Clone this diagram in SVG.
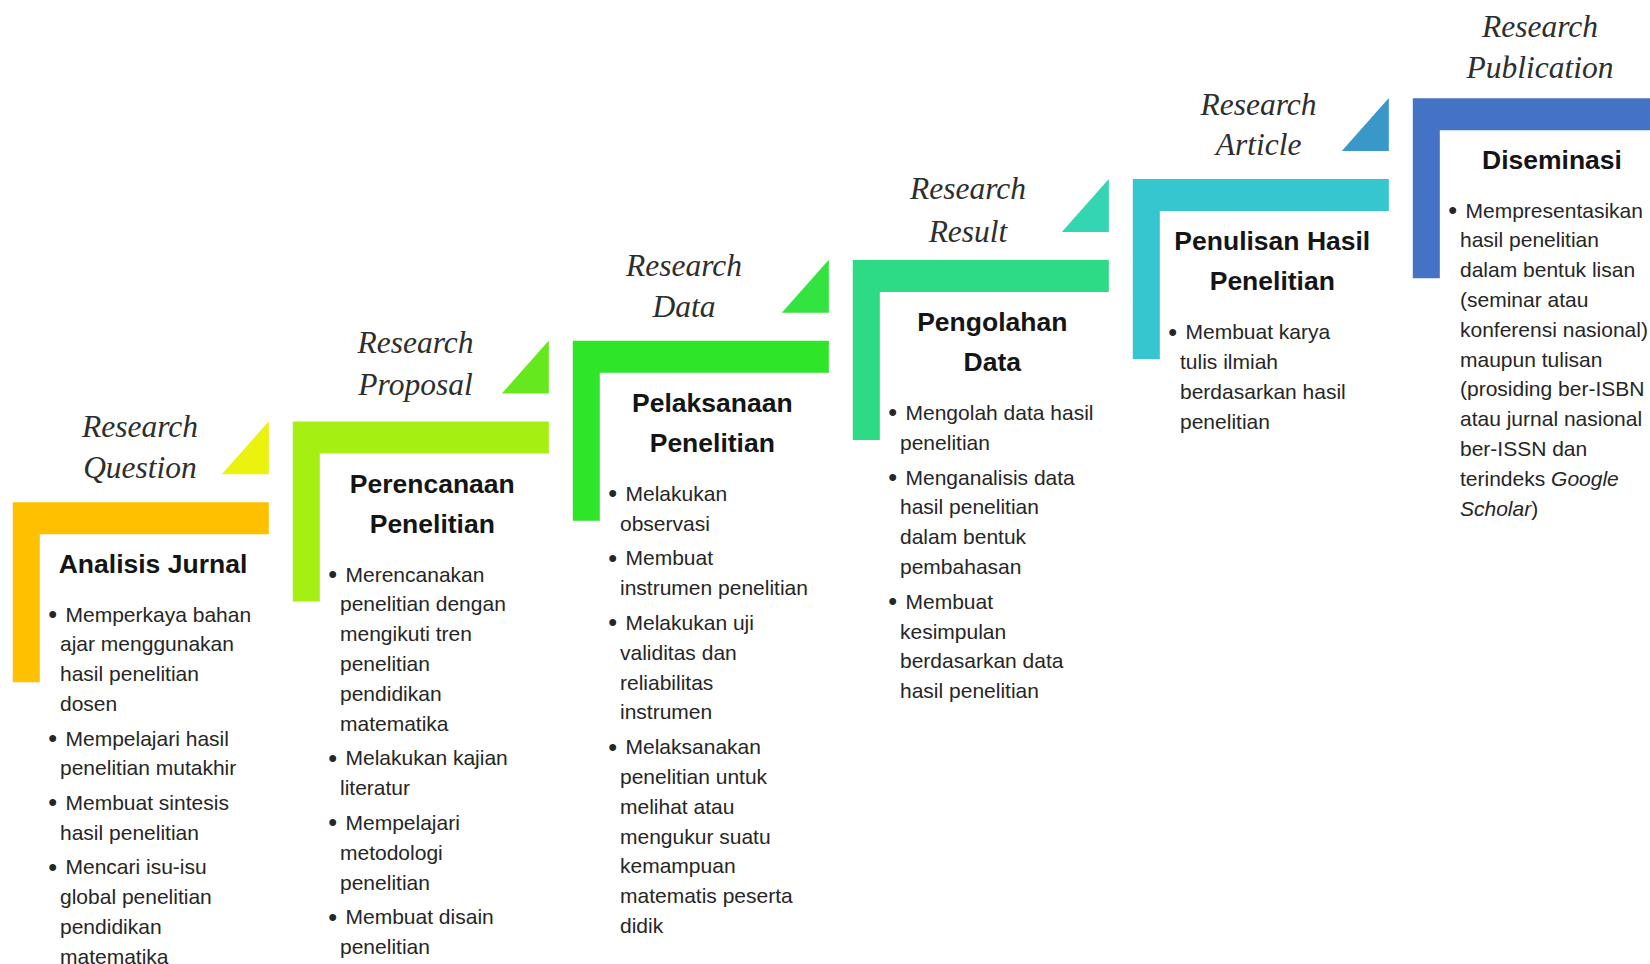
<svg xmlns="http://www.w3.org/2000/svg" width="1650" height="964" viewBox="0 0 1650 964">
<defs>
<style>
.lbl{font-family:"Liberation Serif","Times New Roman",serif;font-style:italic;font-size:31.5px;fill:#2e2e2e;text-anchor:middle}
.ttl{font-family:"Liberation Sans",Arial,sans-serif;font-weight:bold;font-size:26.5px;fill:#151515;text-anchor:middle}
.bd{font-family:"Liberation Sans",Arial,sans-serif;font-size:21px;fill:#262626}
.bl{font-size:24px;font-weight:bold}
.it{font-style:italic}
</style>
<path id="brk" d="M0,0 H256 V32 H27 V180 H0 Z"/>
<path id="tri" d="M209,-28 L256,-81 L256,-28 Z"/>
</defs>
<rect width="1650" height="964" fill="#ffffff"/>

<g id="step1">
<use href="#brk" x="12.8" y="502.3" fill="#FFC000"/>
<use href="#tri" x="12.8" y="502.3" fill="#EBF20E"/>
<text class="lbl" x="140" y="437">Research</text>
<text class="lbl" x="140" y="478">Question</text>
<text class="ttl" x="153" y="573.3">Analisis Jurnal</text>
<g class="bd">
<text class="bl" x="48.5" y="622">•</text><text x="65.5" y="621.5">Memperkaya bahan</text>
<text x="60" y="651.3">ajar menggunakan</text>
<text x="60" y="681.1">hasil penelitian</text>
<text x="60" y="710.9">dosen</text>
<text class="bl" x="48.5" y="746">•</text><text x="65.5" y="745.5">Mempelajari hasil</text>
<text x="60" y="775.3">penelitian mutakhir</text>
<text class="bl" x="48.5" y="810.4">•</text><text x="65.5" y="809.9">Membuat sintesis</text>
<text x="60" y="839.7">hasil penelitian</text>
<text class="bl" x="48.5" y="874.8">•</text><text x="65.5" y="874.3">Mencari isu-isu</text>
<text x="60" y="904.1">global penelitian</text>
<text x="60" y="933.9">pendidikan</text>
<text x="60" y="963.7">matematika</text>
</g>
</g>

<g id="step2">
<use href="#brk" x="292.8" y="421.5" fill="#A5EF12"/>
<use href="#tri" x="292.8" y="421.5" fill="#66E81E"/>
<text class="lbl" x="415.5" y="353.3">Research</text>
<text class="lbl" x="415.5" y="395">Proposal</text>
<text class="ttl" x="432.3" y="492.5">Perencanaan</text>
<text class="ttl" x="432.3" y="532.5">Penelitian</text>
<g class="bd">
<text class="bl" x="328.5" y="582">•</text><text x="345.5" y="581.5">Merencanakan</text>
<text x="340" y="611.3">penelitian dengan</text>
<text x="340" y="641.1">mengikuti tren</text>
<text x="340" y="670.9">penelitian</text>
<text x="340" y="700.7">pendidikan</text>
<text x="340" y="730.5">matematika</text>
<text class="bl" x="328.5" y="765.8">•</text><text x="345.5" y="765.3">Melakukan kajian</text>
<text x="340" y="795.1">literatur</text>
<text class="bl" x="328.5" y="830.4">•</text><text x="345.5" y="829.9">Mempelajari</text>
<text x="340" y="859.7">metodologi</text>
<text x="340" y="889.5">penelitian</text>
<text class="bl" x="328.5" y="924.8">•</text><text x="345.5" y="924.3">Membuat disain</text>
<text x="340" y="954.1">penelitian</text>
</g>
</g>

<g id="step3">
<use href="#brk" x="572.8" y="340.7" fill="#2EE52A"/>
<use href="#tri" x="572.8" y="340.7" fill="#33E33F"/>
<text class="lbl" x="684" y="276.2">Research</text>
<text class="lbl" x="684" y="317.3">Data</text>
<text class="ttl" x="712.3" y="411.7">Pelaksanaan</text>
<text class="ttl" x="712.3" y="451.7">Penelitian</text>
<g class="bd">
<text class="bl" x="608.5" y="501.2">•</text><text x="625.5" y="500.7">Melakukan</text>
<text x="620" y="530.5">observasi</text>
<text class="bl" x="608.5" y="565.8">•</text><text x="625.5" y="565.3">Membuat</text>
<text x="620" y="595.1">instrumen penelitian</text>
<text class="bl" x="608.5" y="630.4">•</text><text x="625.5" y="629.9">Melakukan uji</text>
<text x="620" y="659.7">validitas dan</text>
<text x="620" y="689.5">reliabilitas</text>
<text x="620" y="719.3">instrumen</text>
<text class="bl" x="608.5" y="754.6">•</text><text x="625.5" y="754.1">Melaksanakan</text>
<text x="620" y="783.9">penelitian untuk</text>
<text x="620" y="813.7">melihat atau</text>
<text x="620" y="843.5">mengukur suatu</text>
<text x="620" y="873.3">kemampuan</text>
<text x="620" y="903.1">matematis peserta</text>
<text x="620" y="932.9">didik</text>
</g>
</g>

<g id="step4">
<use href="#brk" x="852.8" y="259.9" fill="#2CDB84"/>
<use href="#tri" x="852.8" y="259.9" fill="#33D5B3"/>
<text class="lbl" x="968" y="198.8">Research</text>
<text class="lbl" x="968" y="241.6">Result</text>
<text class="ttl" x="992.3" y="330.9">Pengolahan</text>
<text class="ttl" x="992.3" y="370.9">Data</text>
<g class="bd">
<text class="bl" x="888.5" y="420.4">•</text><text x="905.5" y="419.9">Mengolah data hasil</text>
<text x="900" y="449.7">penelitian</text>
<text class="bl" x="888.5" y="485">•</text><text x="905.5" y="484.5">Menganalisis data</text>
<text x="900" y="514.3">hasil penelitian</text>
<text x="900" y="544.1">dalam bentuk</text>
<text x="900" y="573.9">pembahasan</text>
<text class="bl" x="888.5" y="609.2">•</text><text x="905.5" y="608.7">Membuat</text>
<text x="900" y="638.5">kesimpulan</text>
<text x="900" y="668.3">berdasarkan data</text>
<text x="900" y="698.1">hasil penelitian</text>
</g>
</g>

<g id="step5">
<use href="#brk" x="1132.8" y="179.1" fill="#36C6CF"/>
<use href="#tri" x="1132.8" y="179.1" fill="#3A98C8"/>
<text class="lbl" x="1258.6" y="115.2">Research</text>
<text class="lbl" x="1258.6" y="155.2">Article</text>
<text class="ttl" x="1272.3" y="250.1">Penulisan Hasil</text>
<text class="ttl" x="1272.3" y="290.1">Penelitian</text>
<g class="bd">
<text class="bl" x="1168.5" y="339.6">•</text><text x="1185.5" y="339.1">Membuat karya</text>
<text x="1180" y="368.9">tulis ilmiah</text>
<text x="1180" y="398.7">berdasarkan hasil</text>
<text x="1180" y="428.5">penelitian</text>
</g>
</g>

<g id="step6">
<use href="#brk" x="1412.8" y="98.3" fill="#4472C4"/>
<text class="lbl" x="1540" y="37.3">Research</text>
<text class="lbl" x="1540" y="77.5">Publication</text>
<text class="ttl" x="1552" y="169.3">Diseminasi</text>
<g class="bd">
<text class="bl" x="1448.5" y="218">•</text><text x="1465.5" y="217.5">Mempresentasikan</text>
<text x="1460" y="247.3">hasil penelitian</text>
<text x="1460" y="277.1">dalam bentuk lisan</text>
<text x="1460" y="306.9">(seminar atau</text>
<text x="1460" y="336.7">konferensi nasional)</text>
<text x="1460" y="366.5">maupun tulisan</text>
<text x="1460" y="396.3">(prosiding ber-ISBN</text>
<text x="1460" y="426.1">atau jurnal nasional</text>
<text x="1460" y="455.9">ber-ISSN dan</text>
<text x="1460" y="485.7">terindeks <tspan class="it">Google</tspan></text>
<text x="1460" y="515.5"><tspan class="it">Scholar</tspan>)</text>
</g>
</g>

<g id="connectors"></g>
</svg>
